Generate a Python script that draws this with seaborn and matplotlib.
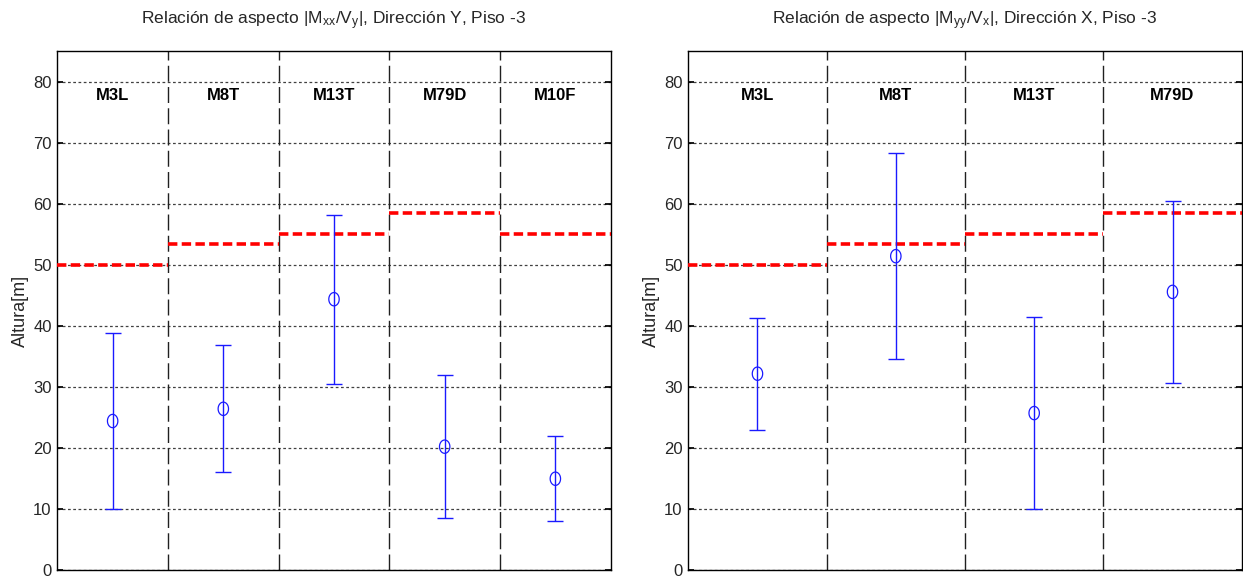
import numpy as np
import pandas as pd
import matplotlib
matplotlib.use("Agg")
import matplotlib.pyplot as plt
from matplotlib.path import Path
import seaborn as sns

# Panel 1: |Mxx/Vy|, direction Y
walls_y = ["M3L", "M8T", "M13T", "M79D", "M10F"]
height_y = [50.0, 53.4, 55.0, 58.4, 55.0]
mean_y = [24.4, 26.4, 44.35, 20.2, 14.95]
std_y = [14.4, 10.4, 13.85, 11.7, 7.0]

# Panel 2: |Myy/Vx|, direction X
walls_x = ["M3L", "M8T", "M13T", "M79D"]
height_x = [50.0, 53.4, 55.0, 58.4]
mean_x = [32.15, 51.4, 25.7, 45.55]
std_x = [9.15, 16.9, 15.7, 14.95]

titles = [r"Relación de aspecto |M$_{xx}$/V$_y$|, Dirección Y, Piso -3",
          r"Relación de aspecto |M$_{yy}$/V$_x$|, Dirección X, Piso -3"]
yticks = [0, 10, 20, 30, 40, 50, 60, 70, 80]

sns.set_theme(style="white")
plt.rcParams["font.family"] = ["Liberation Sans", "DejaVu Sans"]
plt.rcParams["mathtext.fontset"] = "custom"
plt.rcParams["mathtext.rm"] = "Liberation Sans"
plt.rcParams["mathtext.it"] = "Liberation Sans"

# slightly tall open ellipse marker
t = np.linspace(0, 2 * np.pi, 61)
ellipse = Path(np.column_stack([0.78 * np.cos(t), np.sin(t)]), closed=True)

fig = plt.figure(figsize=(12.43, 5.77), dpi=100)
ax_w = 553.4 / 1243
ax_b = 7 / 577
ax_h = 519 / 577
axes = [fig.add_axes([57.3 / 1243, ax_b, ax_w, ax_h]),
        fig.add_axes([688.3 / 1243, ax_b, ax_w, ax_h])]

panels = [(walls_y, height_y, mean_y, std_y), (walls_x, height_x, mean_x, std_x)]

for ax, title, (walls, hgt, mu, sd) in zip(axes, titles, panels):
    n = len(walls)
    df = pd.DataFrame({"pos": np.arange(n) + 0.5, "wall": walls,
                       "h": hgt, "mean": mu, "std": sd})

    ax.set_xlim(0, n)
    ax.set_ylim(0, 85)
    ax.set_yticks(yticks)
    ax.set_xticks([])
    ax.yaxis.grid(True, linestyle=(0, (2.2, 2.0)), color="#404040", linewidth=0.9)
    ax.set_axisbelow(True)

    # wall separators
    for k in range(1, n):
        ax.axvline(k, color="#202020", linestyle=(0, (11.5, 3.8)), linewidth=1.0, zorder=2)

    # building height per wall
    ax.hlines(df["h"], df["pos"] - 0.5, df["pos"] + 0.5, colors="#ff0000",
              linestyles=(0, (2.6, 1.2)), linewidth=2.6, zorder=3)

    # mean +/- std
    ax.errorbar(df["pos"], df["mean"], yerr=df["std"], fmt="none",
                ecolor="#1a1aff", elinewidth=1.0, capsize=6, capthick=1.0, zorder=4)
    sns.scatterplot(data=df, x="pos", y="mean", ax=ax, marker=ellipse, s=92,
                    facecolor="none", edgecolor="#1a1aff", linewidth=0.9, zorder=5)

    for _, r in df.iterrows():
        ax.text(r["pos"], 77.7, r["wall"], ha="center", va="center",
                fontsize=12, fontweight="bold", color="black")

    ax.set_xlabel("")
    ax.set_ylabel("Altura[m]", fontsize=13, labelpad=3)
    ax.set_title(title, fontsize=12.5, pad=19)
    ax.tick_params(axis="y", which="both", direction="in", length=4, labelsize=12,
                   left=True, right=True, pad=4, color="black")
    for s in ax.spines.values():
        s.set_color("black")
        s.set_linewidth(1.0)

fig.savefig("out.png", dpi=100)
